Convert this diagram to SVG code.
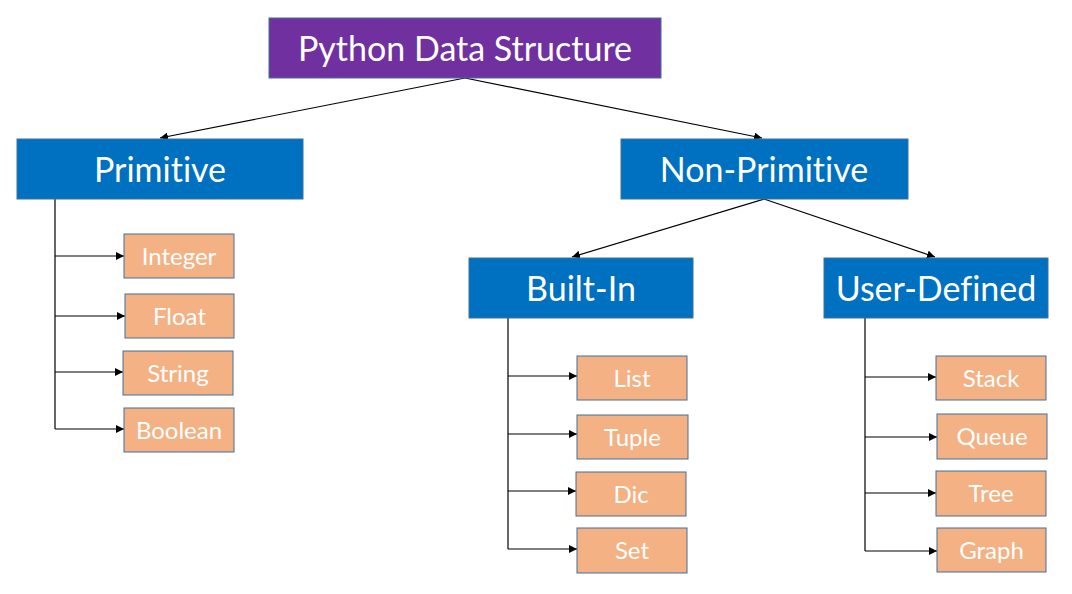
<svg xmlns="http://www.w3.org/2000/svg" width="1072" height="594" viewBox="0 0 1072 594">
<style>
.title{fill:#7030A0;stroke:#41719C;stroke-width:1}
.cat{fill:#0070C0;stroke:#41719C;stroke-width:1}
.leaf{fill:#F4B183;stroke:#41719C;stroke-width:1}
text{font-family:Lato,"Liberation Sans",sans-serif;fill:#FFFFFF;text-anchor:middle;font-variant-ligatures:none}
.big{font-size:34px}
.small{font-size:24px}
.conn{stroke:#000;stroke-width:1.2;fill:none}
</style>
<defs>
<marker id="arr" viewBox="0 0 10 10" refX="10" refY="5" markerWidth="8" markerHeight="8" markerUnits="userSpaceOnUse" orient="auto">
<path d="M0,0 L10,5 L0,10 z" fill="#000"/>
</marker>
</defs>
<rect width="1072" height="594" fill="#FFFFFF"/>
<g id="connectors" class="conn">
<line x1="465" y1="78" x2="160" y2="138" marker-end="url(#arr)"/>
<line x1="465" y1="78" x2="762" y2="138" marker-end="url(#arr)"/>
<line x1="764" y1="199" x2="572" y2="257" marker-end="url(#arr)"/>
<line x1="764" y1="199" x2="935" y2="257" marker-end="url(#arr)"/>
<polyline points="55,199 55,429"/>
<line x1="55" y1="256" x2="124" y2="256" marker-end="url(#arr)"/>
<line x1="55" y1="316" x2="125" y2="316" marker-end="url(#arr)"/>
<line x1="55" y1="372" x2="123" y2="372" marker-end="url(#arr)"/>
<line x1="55" y1="429" x2="124" y2="429" marker-end="url(#arr)"/>
<polyline points="508,318 508,549"/>
<line x1="508" y1="376" x2="577" y2="376" marker-end="url(#arr)"/>
<line x1="508" y1="434" x2="577" y2="434" marker-end="url(#arr)"/>
<line x1="508" y1="491" x2="576" y2="491" marker-end="url(#arr)"/>
<line x1="508" y1="549" x2="577" y2="549" marker-end="url(#arr)"/>
<polyline points="865,318 865,551"/>
<line x1="865" y1="377" x2="936" y2="377" marker-end="url(#arr)"/>
<line x1="865" y1="437" x2="937" y2="437" marker-end="url(#arr)"/>
<line x1="865" y1="493" x2="936" y2="493" marker-end="url(#arr)"/>
<line x1="865" y1="551" x2="937" y2="551" marker-end="url(#arr)"/>
</g>
<g id="python-data-structure"><rect class="title" x="269" y="18" width="392" height="60"/><text class="big" x="465" y="61">Python Data Structure</text></g>
<g id="primitive"><rect class="cat" x="17" y="139" width="286" height="60"/><text class="big" x="160" y="182">Primitive</text></g>
<g id="non-primitive"><rect class="cat" x="621" y="139" width="287" height="60"/><text class="big" x="764" y="182">Non-Primitive</text></g>
<g id="built-in"><rect class="cat" x="469" y="258" width="224" height="60"/><text class="big" x="581" y="301">Built-In</text></g>
<g id="user-defined"><rect class="cat" x="824" y="258" width="224" height="60"/><text class="big" x="936" y="301">User-Defined</text></g>
<g id="integer"><rect class="leaf" x="124" y="234" width="110" height="44"/><text class="small" x="179" y="265">Integer</text></g>
<g id="float"><rect class="leaf" x="125" y="294" width="109" height="44"/><text class="small" x="179.5" y="325">Float</text></g>
<g id="string"><rect class="leaf" x="123" y="351" width="110" height="44"/><text class="small" x="178" y="382">String</text></g>
<g id="boolean"><rect class="leaf" x="124" y="408" width="110" height="44"/><text class="small" x="179" y="439">Boolean</text></g>
<g id="list"><rect class="leaf" x="577" y="356" width="110" height="44"/><text class="small" x="632" y="387">List</text></g>
<g id="tuple"><rect class="leaf" x="577" y="415" width="111" height="44"/><text class="small" x="632.5" y="446">Tuple</text></g>
<g id="dic"><rect class="leaf" x="576" y="472" width="110" height="44"/><text class="small" x="631" y="503">Dic</text></g>
<g id="set"><rect class="leaf" x="577" y="528" width="110" height="45"/><text class="small" x="632" y="559">Set</text></g>
<g id="stack"><rect class="leaf" x="936" y="356" width="110" height="44"/><text class="small" x="991" y="387">Stack</text></g>
<g id="queue"><rect class="leaf" x="937" y="414" width="110" height="45"/><text class="small" x="992" y="445">Queue</text></g>
<g id="tree"><rect class="leaf" x="936" y="471" width="110" height="45"/><text class="small" x="991" y="502">Tree</text></g>
<g id="graph"><rect class="leaf" x="937" y="528" width="109" height="44"/><text class="small" x="991.5" y="559">Graph</text></g>
</svg>
